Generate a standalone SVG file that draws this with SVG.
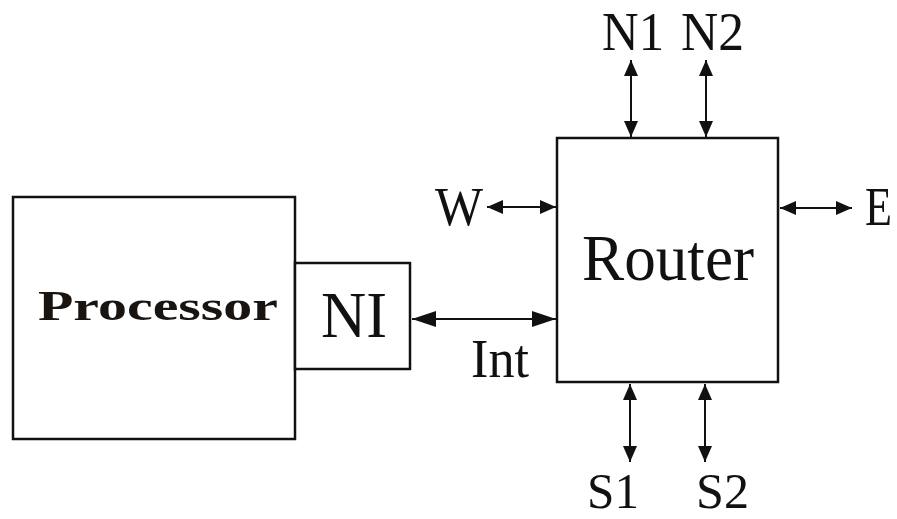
<svg xmlns="http://www.w3.org/2000/svg" width="897" height="519" viewBox="0 0 897 519">
<style>
.box{fill:#fff;stroke:#111;stroke-width:2.5}
.lbl{font-family:"Liberation Serif","Times New Roman",serif;fill:#111}
.bold{font-family:"Liberation Serif","Times New Roman",serif;font-weight:bold;fill:#1a1410}
.con{stroke:#111;stroke-width:2;fill:none;marker-start:url(#ah);marker-end:url(#ah)}
.con.big{marker-start:url(#ahb);marker-end:url(#ahb)}
</style>
<defs>
<marker id="ah" markerUnits="userSpaceOnUse" markerWidth="16" markerHeight="14" refX="16" refY="7" orient="auto-start-reverse" viewBox="0 0 16 14">
<path d="M0,0 L16,7 L0,14 z" fill="#111"/>
</marker>
<marker id="ahb" markerUnits="userSpaceOnUse" markerWidth="24" markerHeight="16" refX="24" refY="8" orient="auto-start-reverse" viewBox="0 0 24 16">
<path d="M0,0 L24,8 L0,16 z" fill="#111"/>
</marker>
</defs>
<rect width="897" height="519" fill="#fff"/>
<g id="processor">
<rect class="box" x="13" y="197" width="282" height="242"/>
<text class="bold" x="38" y="320" font-size="42" textLength="240" lengthAdjust="spacingAndGlyphs">Processor</text>
</g>
<g id="ni">
<rect class="box" x="295" y="263" width="115" height="106"/>
<text class="lbl" x="321" y="337" font-size="66" textLength="66" lengthAdjust="spacingAndGlyphs">NI</text>
</g>
<g id="router">
<rect class="box" x="557" y="138" width="221" height="244"/>
<text class="lbl" x="582" y="280" font-size="65" textLength="172" lengthAdjust="spacingAndGlyphs">Router</text>
</g>
<g id="connectors">
<line class="con" x1="631" y1="60" x2="631" y2="137"/>
<line class="con" x1="706" y1="60" x2="706" y2="137"/>
<line class="con" x1="630" y1="384" x2="630" y2="462"/>
<line class="con" x1="705" y1="384" x2="705" y2="462"/>
<line class="con" x1="487" y1="207" x2="556" y2="207"/>
<line class="con" x1="780" y1="208" x2="852" y2="208"/>
<line class="con big" x1="412" y1="319" x2="556" y2="319"/>
</g>
<g id="labels">
<text class="lbl" x="602" y="50" font-size="55" textLength="62" lengthAdjust="spacingAndGlyphs">N1</text>
<text class="lbl" x="681" y="50" font-size="55" textLength="63" lengthAdjust="spacingAndGlyphs">N2</text>
<text class="lbl" x="435" y="225" font-size="55" textLength="48" lengthAdjust="spacingAndGlyphs">W</text>
<text class="lbl" x="865" y="225" font-size="55" textLength="27" lengthAdjust="spacingAndGlyphs">E</text>
<text class="lbl" x="471" y="377" font-size="55" textLength="58" lengthAdjust="spacingAndGlyphs">Int</text>
<text class="lbl" x="587" y="508" font-size="51" textLength="52" lengthAdjust="spacingAndGlyphs">S1</text>
<text class="lbl" x="696" y="508" font-size="51" textLength="53" lengthAdjust="spacingAndGlyphs">S2</text>
</g>
</svg>
